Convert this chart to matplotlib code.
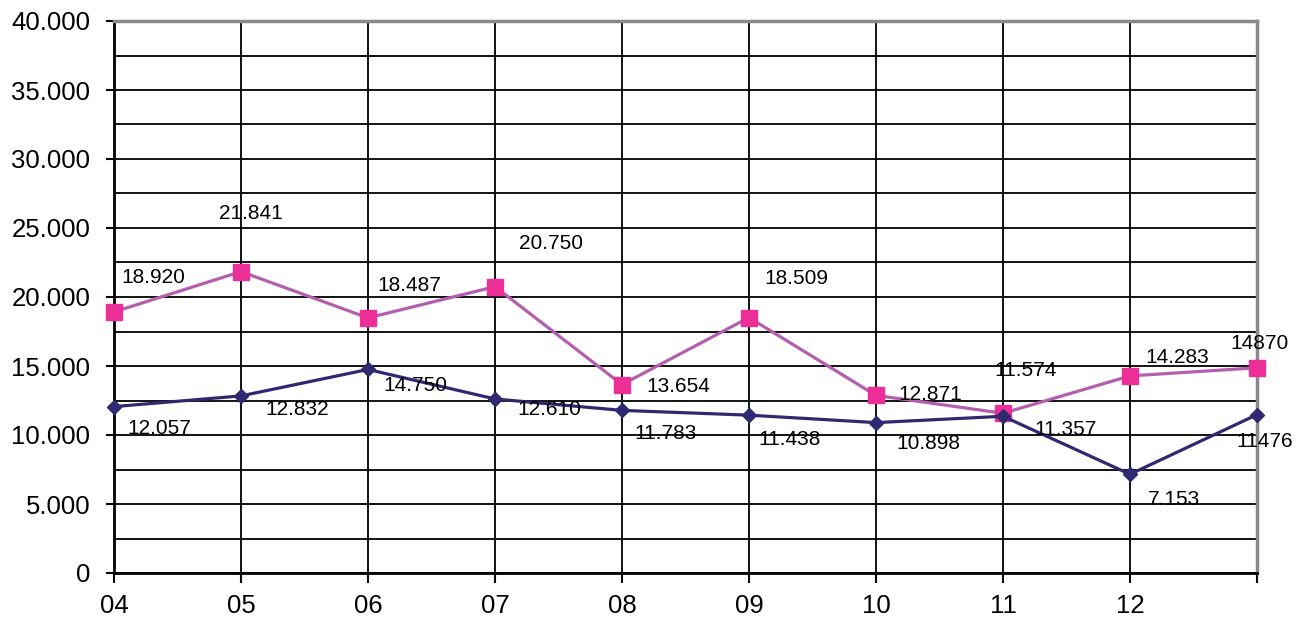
import matplotlib.pyplot as plt
from matplotlib.ticker import FuncFormatter, MultipleLocator

plt.rcParams['font.family'] = ['Liberation Sans', 'DejaVu Sans']

# data
years = ['04', '05', '06', '07', '08', '09', '10', '11', '12', '']
pink_vals = [18920, 21841, 18487, 20750, 13654, 18509, 12871, 11574, 14283, 14870]
navy_vals = [12057, 12832, 14750, 12610, 11783, 11438, 10898, 11357, 7153, 11476]
pink_labels = ['18.920', '21.841', '18.487', '20.750', '13.654', '18.509', '12.871', '11.574', '14.283', '14870']
navy_labels = ['12.057', '12.832', '14.750', '12.610', '11.783', '11.438', '10.898', '11.357', '7.153', '11476']

# label offsets in pixels (dx, dy)
pink_off = [(39, 34), (10, 58), (41, 32), (56, 43), (56, -2), (47, 39), (54, 1), (23, 43), (47, 18), (3, 24)]
navy_off = [(45, -22), (56, -14), (47, -16), (54, -11), (44, -23), (41, -24), (52, -21), (63, -13), (44, -25), (8, -27)]

fig = plt.figure(figsize=(13.11, 6.18), dpi=100)
ax = fig.add_axes([114/1311, 1-573/618, (1257-114)/1311, (573-21)/618])

x = list(range(len(years)))
ax.plot(x, pink_vals, color='#B45FAE', lw=2.3, marker='s', ms=11,
        mfc='#EC2F96', mec='#EC2F96', zorder=4, clip_on=False)
ax.plot(x, navy_vals, color='#2E2A72', lw=2.3, marker='D', ms=7.5,
        mfc='#2E2A72', mec='#2E2A72', zorder=5, clip_on=False)

for i in x:
    ax.annotate(pink_labels[i], (i, pink_vals[i]), xytext=pink_off[i], textcoords='offset pixels',
                ha='center', va='center', fontsize=15, zorder=6, annotation_clip=False)
    ax.annotate(navy_labels[i], (i, navy_vals[i]), xytext=navy_off[i], textcoords='offset pixels',
                ha='center', va='center', fontsize=15, zorder=6, annotation_clip=False)

ax.set_xlim(0, len(years) - 1)
ax.set_ylim(0, 40000)
ax.set_xticks(x)
ax.set_xticklabels(years)
ax.yaxis.set_major_locator(MultipleLocator(5000))
ax.yaxis.set_minor_locator(MultipleLocator(2500))
ax.yaxis.set_major_formatter(FuncFormatter(lambda v, p: '{:,.0f}'.format(v).replace(',', '.')))

ax.grid(True, which='both', axis='y', color='black', lw=1.3, zorder=1)
ax.grid(True, which='major', axis='x', color='black', lw=1.3, zorder=1)
ax.set_axisbelow(True)

ax.tick_params(axis='y', which='major', length=6, width=1.5, pad=11, labelsize=18.5)
ax.tick_params(axis='y', which='minor', length=0)
ax.tick_params(axis='x', length=7, width=1.5, pad=8, labelsize=18.5)

for s in ['left', 'bottom']:
    ax.spines[s].set_color('black')
    ax.spines[s].set_linewidth(2)
for s in ['top', 'right']:
    ax.spines[s].set_color('#8A8A8A')
    ax.spines[s].set_linewidth(2.5)

plt.savefig('out.png', dpi=100)
